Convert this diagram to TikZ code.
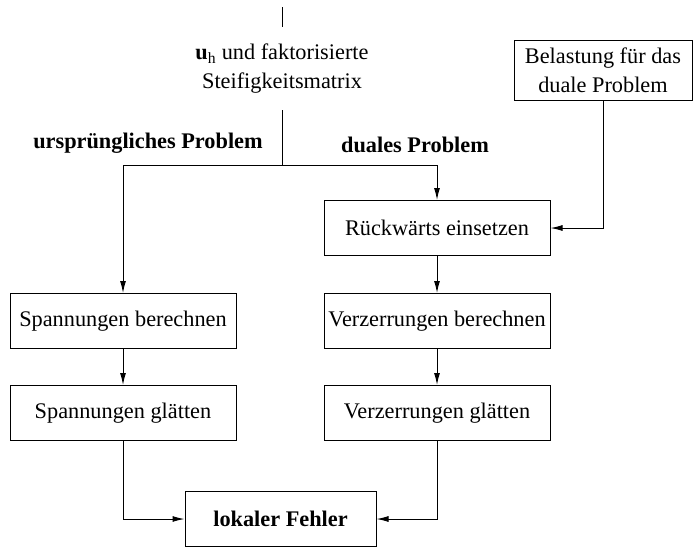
\documentclass[tikz,border=0pt]{standalone}
\usepackage{fontspec}
\setmainfont{Liberation Serif}
\usetikzlibrary{arrows.meta}
\begin{document}
\begin{tikzpicture}[x=1pt,y=-1pt,
  every node/.style={font=\fontsize{22.3}{29}\selectfont},
  stepbox/.style={draw, line width=1pt, inner sep=0pt, minimum width=226pt, minimum height=55pt},
  label/.style={inner sep=0pt, align=center},
  heading/.style={inner sep=0pt, font=\fontsize{22.3}{29}\selectfont\bfseries},
  link/.style={draw, line width=1pt},
  flow/.style={link, -{Latex[length=12pt,width=6pt]}}]
  \useasboundingbox (0,0) rectangle (693,549);

  % input text and the loading for the dual problem
  \node[label, minimum height=83pt] (ktxt) at (282,68.5)
    {\textbf{u}\textsubscript{h} und faktorisierte\\Steifigkeitsmatrix};
  \node[draw, line width=1pt, inner sep=0pt, align=center, minimum width=178pt, minimum height=60pt]
    (belast) at (603,70) {Belastung für das\\duale Problem};

  % branch headings
  \node[heading] (hprim) at (148,143) {ursprüngliches Problem};
  \node[heading] (hdual) at (415,145) {duales Problem};

  % process boxes
  \node[stepbox] (rueck) at (437,228) {Rückwärts einsetzen};
  \node[stepbox] (spb)   at (123,321) {Spannungen berechnen};
  \node[stepbox] (vzb)   at (437,321) {Verzerrungen berechnen};
  \node[stepbox] (spg)   at (123,413) {Spannungen glätten};
  \node[stepbox] (vzg)   at (437,413) {Verzerrungen glätten};
  \node[stepbox, minimum width=191pt, font=\fontsize{22.3}{29}\selectfont\bfseries]
    (lok) at (280.5,519) {lokaler Fehler};

  % connectors
  \coordinate (entry) at (282,7);
  \coordinate (split) at (282,165);
  \draw[link] (entry) -- (ktxt.north);
  \draw[link] (ktxt.south) -- (split);
  \draw[flow] (split) -| (spb.north);
  \draw[flow] (split) -| (rueck.north);
  \draw[flow] (belast.south) |- (rueck.east);
  \draw[flow] (rueck) -- (vzb);
  \draw[flow] (spb) -- (spg);
  \draw[flow] (vzb) -- (vzg);
  \draw[flow] (spg.south) |- (lok.west);
  \draw[flow] (vzg.south) |- (lok.east);
\end{tikzpicture}
\end{document}
